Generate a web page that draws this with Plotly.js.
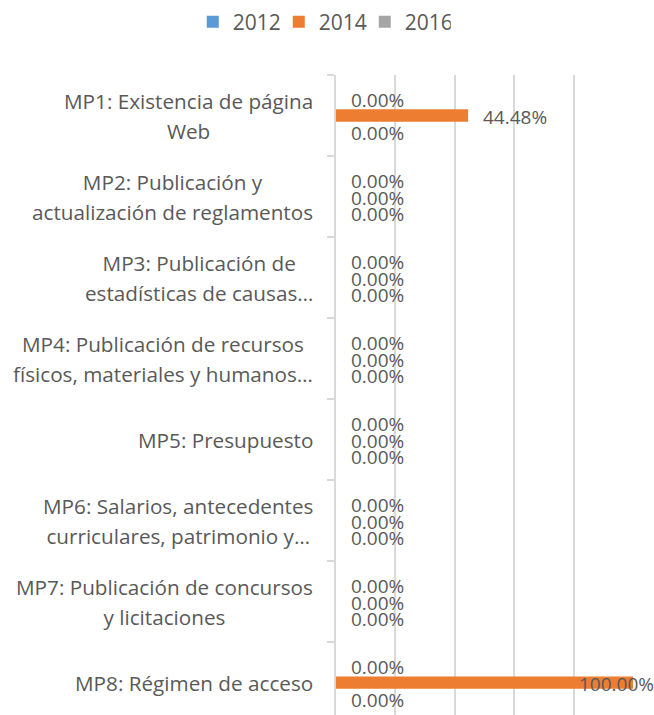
<!DOCTYPE html>
<html>
<head>
<meta charset="utf-8">
<script src="https://cdn.plot.ly/plotly-3.0.1.min.js"></script>
<style>
  html, body { margin: 0; padding: 0; background: #ffffff; }
  #chart { width: 654px; height: 715px; }
</style>
</head>
<body>
<div id="chart"></div>
<script>
// ---- data ----
const categories = [
  "MP1: Existencia de página<br>Web",
  "MP2: Publicación y<br>actualización de reglamentos",
  "MP3: Publicación de<br>estadísticas de causas…",
  "MP4: Publicación de recursos<br>físicos, materiales y humanos…",
  "MP5: Presupuesto",
  "MP6: Salarios, antecedentes<br>curriculares, patrimonio y…",
  "MP7: Publicación de concursos<br>y licitaciones",
  "MP8: Régimen de acceso"
];
const seriesNames = ["2012", "2014", "2016"];
const values2012 = [0, 0, 0, 0, 0, 0, 0, 0];
const values2014 = [0.4448, 0, 0, 0, 0, 0, 0, 1.0];
const values2016 = [0, 0, 0, 0, 0, 0, 0, 0];
const xTickValues = [0, 0.2, 0.4, 0.6, 0.8, 1.0];

// ---- styling ----
const colors = ["#5B9BD5", "#ED7D31", "#A5A5A5"];
const textColor = "#595959";
const gridColor = "#D9D9D9";
const fontFamily = "'Open Sans', 'Noto Sans', sans-serif";
const seriesValues = [values2012, values2014, values2016];
const labelYShift = [15.5, -1.5, -17.5];

const ids = categories.map((c, i) => "c" + i);

const traces = seriesValues.map((vals, s) => ({
  type: "bar",
  orientation: "h",
  name: seriesNames[s],
  x: vals,
  y: ids,
  marker: { color: colors[s] },
  hoverinfo: "skip"
}));

const annotations = [];
// data labels
seriesValues.forEach((vals, s) => {
  vals.forEach((v, i) => {
    const overflow = v > 0.75;
    annotations.push({
      xref: "x", yref: "y",
      x: v, y: ids[i],
      text: (v * 100).toFixed(2) + "%",
      showarrow: false,
      xanchor: overflow ? "right" : "left",
      xshift: overflow ? 23 : 13,
      yshift: labelYShift[s],
      font: { family: fontFamily, size: 19, color: textColor }
    });
  });
});
// category labels (larger base font gives ~30px line spacing, inner spans set glyph size)
categories.forEach((c, i) => {
  const txt = c.split("<br>").map(l => '<span style="font-size:20.7px">' + l + '</span>').join("<br>");
  annotations.push({
    xref: "paper", yref: "y",
    x: 0, y: ids[i],
    text: txt,
    showarrow: false,
    xanchor: "right",
    align: "center",
    xshift: -21,
    font: { family: fontFamily, size: 23, color: textColor }
  });
});

const layout = {
  width: 654,
  height: 715,
  paper_bgcolor: "#ffffff",
  plot_bgcolor: "#ffffff",
  margin: { l: 336, r: 21, t: 75, b: 0, pad: 0 },
  barmode: "group",
  bargap: 0.54,
  bargroupgap: 0,
  showlegend: true,
  legend: {
    orientation: "h",
    xref: "container", yref: "container",
    x: 0.492, xanchor: "center",
    y: 0.969, yanchor: "middle",
    entrywidth: 41,
    entrywidthmode: "pixels",
    font: { family: fontFamily, size: 21, color: textColor },
    itemclick: false, itemdoubleclick: false,
    traceorder: "normal"
  },
  xaxis: {
    range: [0, 1],
    tickvals: xTickValues,
    showticklabels: false,
    showgrid: true,
    gridcolor: gridColor,
    gridwidth: 2,
    zeroline: false,
    showline: false,
    ticks: "",
    fixedrange: true
  },
  yaxis: {
    type: "category",
    categoryorder: "array",
    categoryarray: ids,
    range: [7.4, -0.5],
    showticklabels: false,
    showgrid: false,
    zeroline: false,
    showline: true,
    linecolor: gridColor,
    linewidth: 2,
    ticks: "outside",
    tickson: "boundaries",
    ticklen: 7,
    tickwidth: 2,
    tickcolor: gridColor,
    fixedrange: true
  },
  annotations: annotations,
  hovermode: false
};

Plotly.newPlot("chart", traces, layout, { displayModeBar: false, staticPlot: true });
</script>
</body>
</html>
